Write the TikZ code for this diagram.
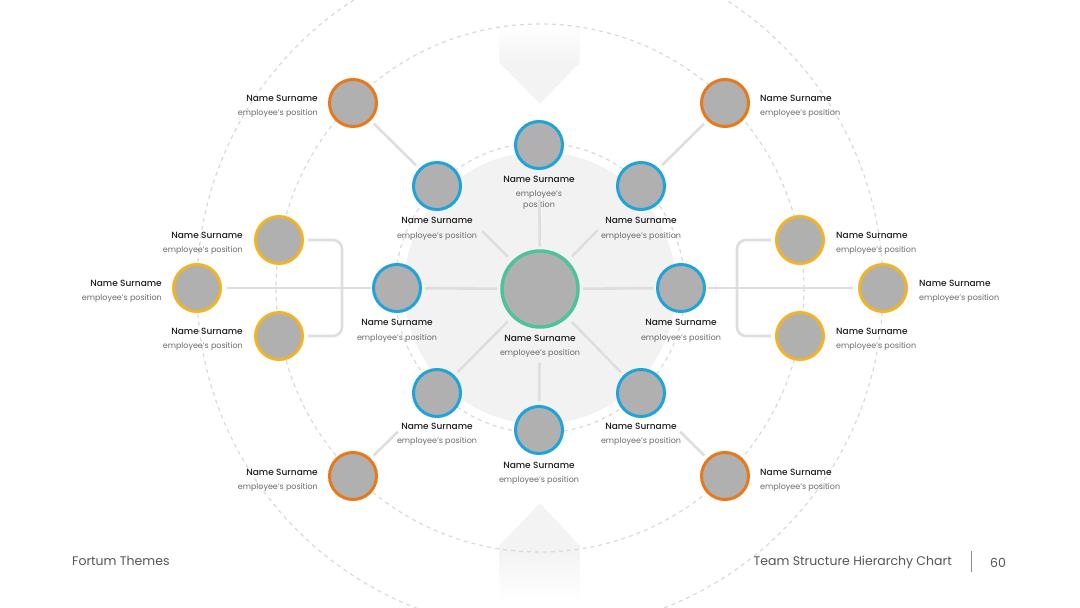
\documentclass[tikz,border=0pt]{standalone}
\usepackage{fontspec}
\setmainfont{Poppins}
\newfontfamily\namefont{Poppins Medium}
\usetikzlibrary{calc}
\definecolor{blueC}{HTML}{1FA3DA}
\definecolor{orangeC}{HTML}{E8781A}
\definecolor{yellowC}{HTML}{F0B428}
\definecolor{greenC}{HTML}{4CC39B}
\definecolor{fillC}{HTML}{B0B0B0}
\definecolor{lineC}{HTML}{DEDEDE}
\definecolor{dashC}{HTML}{D9D9D9}
\definecolor{bgC}{HTML}{F2F2F2}
\definecolor{nameC}{HTML}{1E1E1E}
\definecolor{posC}{HTML}{6A6A6A}
\definecolor{footC}{HTML}{555555}
\definecolor{arrC}{HTML}{F3F3F3}
\begin{document}
\begin{tikzpicture}[x=1pt,y=-1pt,
  person/.style={circle, fill=fillC, line width=3pt, minimum size=47pt, inner sep=0pt},
  bluep/.style={person, draw=blueC},
  orangep/.style={person, draw=orangeC},
  yellowp/.style={person, draw=yellowC},
  centerp/.style={circle, fill=fillC, draw=greenC, line width=3.5pt, minimum size=76pt, inner sep=0pt},
  nm/.style={font=\namefont\fontsize{9}{11}\selectfont, text=nameC, inner sep=0pt},
  ps/.style={font=\fontsize{8}{10.5}\selectfont, text=posC, inner sep=0pt},
  spoke/.style={draw=lineC, line width=2.6pt},
  ring/.style={draw=dashC, line width=1.2pt, dash pattern=on 4pt off 4pt},
  foot/.style={font=\fontsize{12.5}{14}\selectfont, text=footC, inner sep=0pt}]
\useasboundingbox (0,0) rectangle (1080,608);
\clip (0,0) rectangle (1080,608);
\coordinate (O) at (540,288);
% faded pointers (manual gradient strips)
\begin{scope}
  \clip (499,25) -- (580,25) -- (580,62) -- (540,104) -- (499,62) -- cycle;
  \fill[arrC] (499,64) rectangle (580,105);
  \foreach \i in {0,...,19}{
    \pgfmathsetmacro{\pc}{100*\i/19}
    \fill[arrC!\pc!white] (499,25+2*\i) rectangle (580,27.6+2*\i);
  }
\end{scope}
\begin{scope}
  \clip (540,503) -- (580,546) -- (580,608) -- (499,608) -- (499,546) -- cycle;
  \fill[arrC] (499,500) rectangle (580,552);
  \foreach \i in {0,...,24}{
    \pgfmathsetmacro{\pc}{100-100*\i/24}
    \fill[arrC!\pc!white] (499,552+2*\i) rectangle (580,554.6+2*\i);
  }
\end{scope}
% background disc and rings
\fill[bgC] (O) circle[radius=136];
\draw[ring] (O) circle[radius=145];
\draw[ring] (O) circle[radius=264];
\draw[ring] (O) circle[radius=343];
% nodes
\node[centerp] (c) at (540,289) {};
\node[bluep] (bT) at (539,145) {};
\node[bluep] (bTL) at (437,186) {};
\node[bluep] (bTR) at (641,186) {};
\node[bluep] (bL) at (397,288) {};
\node[bluep] (bR) at (681,288) {};
\node[bluep] (bBL) at (437,393) {};
\node[bluep] (bBR) at (641,393) {};
\node[bluep] (bB) at (539,430) {};
\node[orangep] (oTL) at (353,103) {};
\node[orangep] (oTR) at (725,103) {};
\node[orangep] (oBL) at (353,476) {};
\node[orangep] (oBR) at (725,476) {};
\node[yellowp] (yLT) at (279,240) {};
\node[yellowp] (yLF) at (197,288) {};
\node[yellowp] (yLB) at (279,336) {};
\node[yellowp] (yRT) at (800,240) {};
\node[yellowp] (yRF) at (883,288) {};
\node[yellowp] (yRB) at (800,336) {};
\coordinate (brL) at (342,288);
\coordinate (brR) at (737,288);
% connectors
\draw[spoke, shorten <=3pt, shorten >=3pt] (c) -- (bL);
\draw[spoke, shorten <=3pt, shorten >=3pt] (c) -- (bR);
\draw[spoke, shorten <=34pt, shorten >=4pt] (c) -- (bB);
\draw[spoke, shorten <=6pt, shorten >=39pt] (c) -- (bTL);
\draw[spoke, shorten <=6pt, shorten >=37pt] (c) -- (bTR);
\draw[spoke, shorten <=6pt, shorten >=4pt] (c) -- (bBL);
\draw[spoke, shorten <=6pt, shorten >=4pt] (c) -- (bBR);
\draw[spoke, shorten <=4.5pt, shorten >=4.5pt] (oTL) -- (bTL);
\draw[spoke, shorten <=4.5pt, shorten >=4.5pt] (oTR) -- (bTR);
\draw[spoke, shorten <=4pt, shorten >=30pt] (oBL) -- (bBL);
\draw[spoke, shorten <=4pt, shorten >=30pt] (oBR) -- (bBR);
\draw[spoke, shorten <=5pt, shorten >=1pt] (yLF) -- (bL);
\draw[spoke, shorten <=5pt, shorten >=1pt] (yRF) -- (bR);
\draw[spoke, rounded corners=9pt] ([xshift=4pt]yLT.east) -| (brL) |- ([xshift=4pt]yLB.east);
\draw[spoke, rounded corners=9pt] ([xshift=-4pt]yRT.west) -| (brR) |- ([xshift=-4pt]yRB.west);
% labels: center
\node[nm, anchor=base] (tcN) at (540,341) {Name Surname};
\node[ps, anchor=base] (tcP) at (540,355) {employee's position};
% blue
\node[nm, anchor=base] (tbTN) at (539,182) {Name Surname};
\node[ps, anchor=base] (tbTP1) at (539,196) {employee's};
\node[ps, anchor=base] (tbTP2) at (539,207) {position};
\node[nm, anchor=base] (tbTLN) at (437,223) {Name Surname};
\node[ps, anchor=base] (tbTLP) at (437,238) {employee's position};
\node[nm, anchor=base] (tbTRN) at (641,223) {Name Surname};
\node[ps, anchor=base] (tbTRP) at (641,238) {employee's position};
\node[nm, anchor=base] (tbLN) at (397,325) {Name Surname};
\node[ps, anchor=base] (tbLP) at (397,340) {employee's position};
\node[nm, anchor=base] (tbRN) at (681,325) {Name Surname};
\node[ps, anchor=base] (tbRP) at (681,340) {employee's position};
\node[nm, anchor=base] (tbBLN) at (437,429) {Name Surname};
\node[ps, anchor=base] (tbBLP) at (437,443) {employee's position};
\node[nm, anchor=base] (tbBRN) at (641,429) {Name Surname};
\node[ps, anchor=base] (tbBRP) at (641,443) {employee's position};
\node[nm, anchor=base] (tbBN) at (539,468) {Name Surname};
\node[ps, anchor=base] (tbBP) at (539,482) {employee's position};
% orange
\node[nm, anchor=base east] (toTLN) at (318,101) {Name Surname};
\node[ps, anchor=base east] (toTLP) at (318,115) {employee's position};
\node[nm, anchor=base west] (toTRN) at (760,101) {Name Surname};
\node[ps, anchor=base west] (toTRP) at (760,115) {employee's position};
\node[nm, anchor=base east] (toBLN) at (318,475) {Name Surname};
\node[ps, anchor=base east] (toBLP) at (318,489) {employee's position};
\node[nm, anchor=base west] (toBRN) at (760,475) {Name Surname};
\node[ps, anchor=base west] (toBRP) at (760,489) {employee's position};
% yellow
\node[nm, anchor=base east] (tyLTN) at (243,238) {Name Surname};
\node[ps, anchor=base east] (tyLTP) at (243,252) {employee's position};
\node[nm, anchor=base east] (tyLFN) at (162,286) {Name Surname};
\node[ps, anchor=base east] (tyLFP) at (162,300) {employee's position};
\node[nm, anchor=base east] (tyLBN) at (243,334) {Name Surname};
\node[ps, anchor=base east] (tyLBP) at (243,348) {employee's position};
\node[nm, anchor=base west] (tyRTN) at (836,238) {Name Surname};
\node[ps, anchor=base west] (tyRTP) at (836,252) {employee's position};
\node[nm, anchor=base west] (tyRFN) at (919,286) {Name Surname};
\node[ps, anchor=base west] (tyRFP) at (919,300) {employee's position};
\node[nm, anchor=base west] (tyRBN) at (836,334) {Name Surname};
\node[ps, anchor=base west] (tyRBP) at (836,348) {employee's position};
% top spoke over the text
\draw[spoke, shorten <=3pt, shorten >=30pt] (c) -- (bT);
% footer
\node[foot, anchor=base west] (fl) at (72,565) {Fortum Themes};
\node[foot, anchor=base east] (fr) at (952,565) {Team Structure Hierarchy Chart};
\coordinate (barT) at (971,551);
\coordinate (barB) at (971,572);
\draw[draw=black!45, line width=1pt] (barT) -- (barB);
\node[foot, anchor=base west] (fn) at (990,567) {60};
\end{tikzpicture}
\end{document}
